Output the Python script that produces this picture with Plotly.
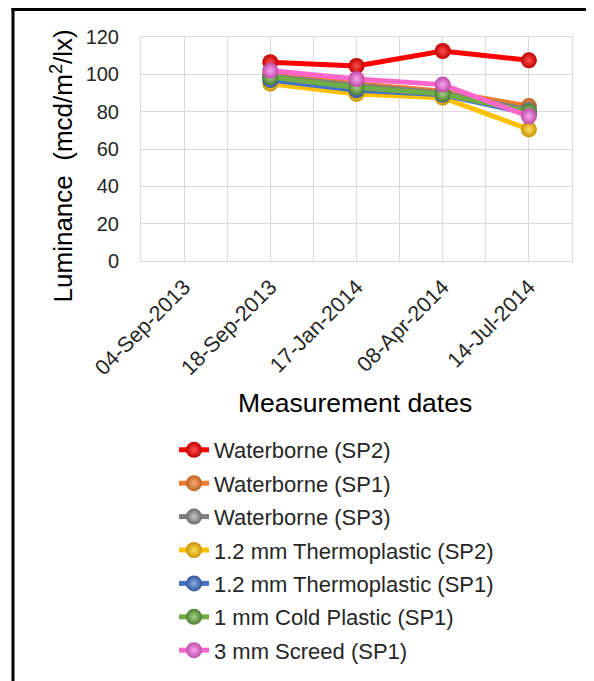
import plotly.graph_objects as go

dates = ["04-Sep-2013", "18-Sep-2013", "17-Jan-2014", "08-Apr-2014", "14-Jul-2014"]

series_names = [
    "Waterborne (SP2)",
    "Waterborne (SP1)",
    "Waterborne (SP3)",
    "1.2 mm Thermoplastic (SP2)",
    "1.2 mm Thermoplastic (SP1)",
    "1 mm Cold Plastic (SP1)",
    "3 mm Screed (SP1)",
]

waterborne_sp2 = [None, 106.5, 104.5, 112.5, 107.5]
waterborne_sp1 = [None, 100, 95, 91, 83]
waterborne_sp3 = [None, 99, 94, 90, 81]
thermo12_sp2 = [None, 95, 89.5, 87.5, 70.5]
thermo12_sp1 = [None, 97, 91.5, 89, 79]
cold1_sp1 = [None, 98.5, 93, 89.5, 80]
screed3_sp1 = [None, 102, 97.5, 94.5, 77.5]

values = [waterborne_sp2, waterborne_sp1, waterborne_sp3, thermo12_sp2,
          thermo12_sp1, cold1_sp1, screed3_sp1]

line_colors = ["#ff0000", "#ed7d31", "#7f7f7f", "#ffc000", "#4472c4", "#70ad47", "#ff66cc"]
ball_edge = ["#c00000", "#c0601e", "#6a6a6a", "#c89400", "#2f5597", "#4e7d30", "#c04aa8"]
ball_center = ["#ff5050", "#f5ac78", "#c8c8c8", "#ffe066", "#8eaee6", "#a6d486", "#f7a6ec"]

x_idx = list(range(len(dates)))

fig = go.Figure()
for i, (name, vals) in enumerate(zip(series_names, values)):
    fig.add_trace(go.Scatter(
        x=x_idx, y=vals, name=name, mode="lines+markers",
        line=dict(color=line_colors[i], width=5),
        marker=dict(size=16, color=ball_edge[i],
                    gradient=dict(type="radial", color=ball_center[i]),
                    line=dict(width=0)),
        legendgroup="g%d" % i,
    ))

# page has an 8px body margin; work in figure pixels = page pixels - 8
OFF = 8
W, H = 586, 673
L = 141 - OFF
T = 37 - OFF
pw = 431
ph = 225
R = W - L - pw
B = H - T - ph
base = T + ph  # figure px of y=0 axis


def px_x(p):
    return (p - OFF - L) / pw


def px_y(p):
    return (base - (p - OFF)) / ph


grid_col = "#d9d9d9"
font_col = "#262626"

fig.update_layout(
    width=W, height=H,
    margin=dict(l=L, r=R, t=T, b=B),
    paper_bgcolor="white", plot_bgcolor="white",
    font=dict(family="Liberation Sans, Arial, sans-serif", color=font_col),
    showlegend=True,
    legend=dict(
        x=px_x(174), y=px_y(429),
        xanchor="left", yanchor="top",
        font=dict(size=22, color=font_col),
        tracegroupgap=1.8,
        bgcolor="rgba(0,0,0,0)",
    ),
    xaxis=dict(
        range=[-0.5, len(dates) - 0.5],
        tickmode="array", tickvals=x_idx, ticktext=dates,
        tickangle=-45, tickfont=dict(size=21.5, color=font_col),
        showgrid=True, gridcolor=grid_col, gridwidth=1,
        minor=dict(tickmode="array",
                   tickvals=[k - 0.5 for k in range(len(dates) + 1)],
                   showgrid=True, gridcolor=grid_col, gridwidth=1),
        showline=True, linecolor=grid_col, linewidth=1, mirror=True,
        zeroline=False, ticks="", ticklabelstandoff=4,
    ),
    yaxis=dict(
        range=[0, 120], tickmode="array", tickvals=[0, 20, 40, 60, 80, 100, 120],
        tickfont=dict(size=20, color=font_col),
        showgrid=True, gridcolor=grid_col, gridwidth=1,
        showline=True, linecolor=grid_col, linewidth=1, mirror=True,
        zeroline=False, ticks="", ticklabelstandoff=17,
    ),
    annotations=[
        dict(text="Luminance  (mcd/m<sup>2</sup>/lx)", xref="paper", yref="paper",
             x=px_x(62), y=px_y(167), textangle=-90,
             showarrow=False, font=dict(size=26, color="black"),
             xanchor="center", yanchor="middle"),
        dict(text="Measurement dates", xref="paper", yref="paper",
             x=px_x(355), y=px_y(405),
             showarrow=False, font=dict(size=26.5, color="black"),
             xanchor="center", yanchor="middle"),
    ],
    shapes=[
        dict(type="line", xref="paper", yref="paper",
             x0=px_x(13), x1=px_x(13),
             y0=px_y(8), y1=px_y(720),
             line=dict(color="black", width=3)),
        dict(type="line", xref="paper", yref="paper",
             x0=px_x(11.5), x1=px_x(640),
             y0=px_y(9.5), y1=px_y(9.5),
             line=dict(color="black", width=3)),
    ],
)

fig.write_html("out.html")
